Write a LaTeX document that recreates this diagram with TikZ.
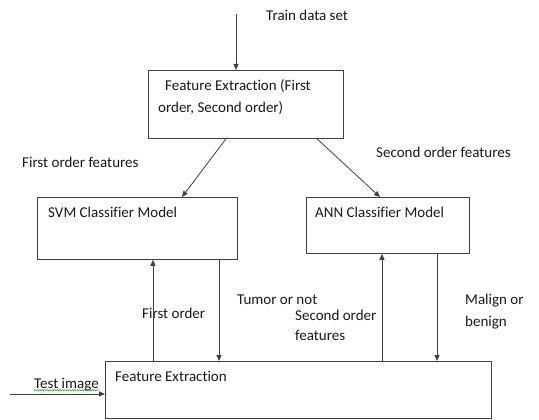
\documentclass[tikz,border=0pt]{standalone}
\usepackage{fontspec}
\setmainfont{Carlito}[Ligatures=NoCommon]
\usetikzlibrary{arrows.meta,positioning,decorations.pathmorphing}
\tikzset{
  block/.style={draw=black!75,line width=0.8pt,anchor=north west,inner sep=0pt},
  lbl/.style={anchor=west,inner sep=0pt,text=black!90,font=\fontsize{15}{21}\selectfont},
  flow/.style={draw=black!75,line width=0.8pt,-{Triangle[length=6pt,width=5pt]}},
}
\begin{document}
\begin{tikzpicture}[x=1pt,y=-1pt]
\useasboundingbox (0,0) rectangle (539,420);
\node[block,minimum width=195pt,minimum height=68pt] (fe1) at (148,70) {};
\node[block,minimum width=200pt,minimum height=62pt] (svm) at (37,197) {};
\node[block,minimum width=163pt,minimum height=56pt] (ann) at (306,197) {};
\node[block,minimum width=386pt,minimum height=57pt] (fe2) at (105,361) {};

\node[lbl] (train) at (266,15) {Train data set};
\node[lbl] (fe1a) at (165,86) {Feature Extraction (First};
\node[lbl] (fe1b) at (158,108) {order, Second order)};
\node[lbl] (first) at (22,162) {First order features};
\node[lbl] (second) at (376,152) {Second order features};
\node[lbl] (svmt) at (48,212) {SVM Classifier Model};
\node[lbl] (annt) at (315,212) {ANN Classifier Model};
\node[lbl] (firsto) at (142,313) {First order};
\node[lbl] (tumor) at (237,300) {Tumor or not};
\node[lbl,align=left,font=\fontsize{15}{20}\selectfont] (secf) at (295,325) {Second order\\features};
\node[lbl,align=left,font=\fontsize{15}{22}\selectfont] (malign) at (465,312) {Malign or\\benign};
\node[lbl] (fe2t) at (115,376) {Feature Extraction};
\node[lbl] (test) at (34,385) {Test image};

% spell-check underline
\draw[green!60!black,line width=0.4pt,decorate,decoration={snake,amplitude=0.6pt,segment length=2.5pt}]
  ([yshift=1.5pt]test.south west) -- ([yshift=1.5pt]test.south east);

% train input
\coordinate (src) at (236,14);
\draw[flow] (src) -- (fe1.north -| src);
\draw[flow] ([xshift=78pt]fe1.south west) -- ([xshift=145pt]svm.north west);
\draw[flow] ([xshift=169pt]fe1.south west) -- ([xshift=74pt]ann.north west);

% test path
\draw[flow] ([xshift=48pt]fe2.north west) -- ([xshift=116pt]svm.south west);
\draw[flow] ([xshift=182pt]svm.south west) -- ([xshift=114pt]fe2.north west);
\draw[flow] ([xshift=277pt]fe2.north west) -- ([xshift=76pt]ann.south west);
\draw[flow] ([xshift=131pt]ann.south west) -- ([xshift=332pt]fe2.north west);

\coordinate (tin) at (10,394);
\draw[flow] (tin) -- (tin -| fe2.west);
\end{tikzpicture}
\end{document}
